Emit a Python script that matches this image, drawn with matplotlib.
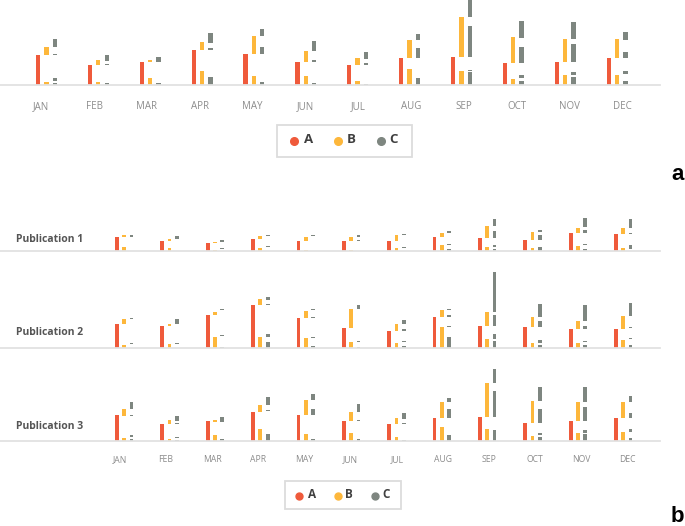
import numpy as np
import matplotlib.pyplot as plt
from matplotlib.patches import Rectangle
from matplotlib.lines import Line2D

plt.rcParams['font.family'] = ['Open Sans', 'DejaVu Sans']

W, H = 685, 526

months = ['JAN', 'FEB', 'MAR', 'APR', 'MAY', 'JUN', 'JUL', 'AUG', 'SEP', 'OCT', 'NOV', 'DEC']
series = ['A', 'B', 'C']
colors = ['#ef5a3b', '#fdb73b', '#7e8680']

# each bar is a stack of pieces from the baseline: shown, hidden, shown, hidden, ...
overall_A = [30, 19.3, 22.7, 34.3, 30.3, 23, 19.3, 27, 27.6, 21.3, 22.6, 26.6]
overall_B = [[3, 26.3, 8], [2.5, 16.8, 4.7], [7, 15.3, 1.7], [14, 20.3, 8],
             [8.3, 22, 18], [8.6, 14.4, 10.3], [4, 15.3, 7], [16, 11, 18],
             [13.6, 14, 40], [6, 15.3, 25.7], [9.3, 13.3, 23], [10, 16.6, 18.4]]
overall_C = [[1.5, 2.5, 2.5, 23, 1, 7, 8],
             [1.2, 2, 0.8, 15.3, 1.3, 2.7, 6],
             [1.5, 20.8, 5],
             [7.3, 27.3, 1.4, 6, 10],
             [2.3, 28, 7, 11, 7],
             [2, 21, 1.7, 8.6, 10],
             [0.7, 18.6, 1.7, 5, 6.3],
             [6.3, 20.7, 10, 8, 5.3],
             [12.3, 1.2, 0.8, 13.3, 31, 9, 17],
             [4, 2.3, 2.7, 12.3, 16.4, 9.3, 16.3],
             [7.3, 2.3, 2.7, 10.3, 17.4, 5.6, 17],
             [3.3, 7, 3.3, 13, 5.7, 12.7, 7.6]]

pub1_A = [16.5, 12.2, 9.4, 14.2, 12.2, 11.4, 11.8, 16.2, 15.3, 13.3, 21.2, 20]
pub1_B = [[5, 11.5, 2], [3.2, 9, 2], [1.5, 7.9, 1.5], [3.9, 10.3, 3.5],
          [1.5, 10.7, 4.7], [0.8, 10.6, 5.5], [3.2, 8.6, 7.1], [7.1, 9.1, 5],
          [5.1, 10.2, 14.2], [3.2, 10.1, 8.8], [5.9, 15.3, 6.3], [3.2, 16.8, 7.5]]
pub1_C = [[0.5, 6, 1, 9, 2.5],
          [0.5, 14, 3.5],
          [0, 2.5, 0.8, 7.7, 1.6],
          [0.5, 4.2, 0.8, 12.2, 0.8, 1.2, 0.8],
          [0, 17.3, 1.6],
          [0, 12, 0.8, 4.1, 2],
          [0, 3.6, 0.7, 8.3, 0.7, 5.6, 0.7],
          [2.4, 5, 0.8, 13, 2.4],
          [2.7, 2.4, 2.3, 7.9, 8.7, 5.1, 8.7],
          [4.4, 8.9, 5.9, 2.9, 2.7],
          [2.7, 4.7, 0.8, 13.2, 3.6, 2.7, 11.1],
          [0, 2.7, 4, 13.3, 0.8, 6.6, 9.9]]

pub2_A = [28, 25.1, 38.9, 49.9, 35, 23.2, 19.2, 35.8, 26, 24.4, 22.1, 22.1]
pub2_B = [[3.5, 24.5, 5.9], [4.7, 20.4, 2.9], [13, 25.9, 3.6], [12.6, 37.3, 7.1],
          [11.4, 23.6, 8.3], [6.3, 16.9, 22.5], [5.9, 13.3, 8.8], [24.8, 11, 8.7],
          [9.8, 16.2, 16.5], [5.1, 19.3, 12.2], [5.1, 17, 8.9], [8.6, 13.5, 14.8]]
pub2_C = [[0, 4.7, 0.8, 28.5, 1.5],
          [0, 4.7, 0.8, 19.6, 0.8, 2.1, 5.4],
          [1, 13, 0.8, 24.5, 0.8, 4.4, 0.8],
          [6.7, 5.9, 3.6, 34.1, 0.8, 5.4, 3.5],
          [2.4, 9.4, 0.8, 22.8, 0.8, 8.6, 0.8],
          [1.2, 5.6, 0.8, 16.3, 0.8, 21, 4],
          [2, 5, 0.8, 11.4, 3.2, 5.1, 5.5],
          [13, 11.4, 0.8, 10.6, 3.1, 5.7, 0.8],
          [8.3, 1.5, 6.7, 9.1, 13, 3.9, 46.8],
          [3.5, 1.6, 4, 15.3, 6.6, 5.6, 15],
          [3.5, 3.2, 0.8, 14.6, 3.9, 5, 18.9],
          [2.7, 7.9, 0.8, 11.7, 0.8, 13, 16.2]]

# publication 3 follows the overall panel
pub3_A, pub3_B, pub3_C = overall_A, overall_B, overall_C

publications = ['Publication 1', 'Publication 2', 'Publication 3']
pub_data = [(pub1_A, pub1_B, pub1_C), (pub2_A, pub2_B, pub2_C), (pub3_A, pub3_B, pub3_C)]

offsets = [0, 0.16, 0.322]
bar_w = 0.083
label_pos = 0.06 + 1.018 * np.arange(12)


def px_axes(left, top, right, bottom):
    return fig.add_axes([left / W, 1 - bottom / H, (right - left) / W, (bottom - top) / H])


def draw_bars(ax, a_vals, b_segs, c_segs):
    x = np.arange(len(months))
    stacks = [[[v] for v in a_vals], b_segs, c_segs]
    for stack, off, col in zip(stacks, offsets, colors):
        for i, segs in enumerate(stack):
            bottom = 0
            for k, h in enumerate(segs):
                if k % 2 == 0 and h > 0:
                    ax.bar(x[i] + off, h, bar_w, bottom=bottom, color=col, linewidth=0)
                bottom += h


def style(ax, show_labels, pad):
    for s in ['top', 'right', 'left']:
        ax.spines[s].set_visible(False)
    ax.spines['bottom'].set_color('#e2e2e2')
    ax.spines['bottom'].set_linewidth(1.3)
    ax.set_yticks([])
    ax.set_xticks(label_pos)
    if show_labels:
        ax.set_xticklabels(months)
    else:
        ax.set_xticklabels([])
    ax.tick_params(axis='x', length=0, pad=pad, labelcolor='#8c8c8c')
    ax.patch.set_alpha(0)


def legend_box(x0, y0, x1, y1, dots_x, texts_x, y, fs, ms):
    fig.add_artist(Rectangle((x0 / W, 1 - y1 / H), (x1 - x0) / W, (y1 - y0) / H,
                             transform=fig.transFigure, fill=False,
                             edgecolor='#dcdcdc', linewidth=1.3))
    for name, col, dx, tx in zip(series, colors, dots_x, texts_x):
        fig.add_artist(Line2D([dx / W], [1 - y / H], transform=fig.transFigure,
                              marker='o', markersize=ms, color=col, linestyle='none'))
        fig.text(tx / W, 1 - (y - 1) / H, name, fontsize=fs, fontweight='bold',
                 color='#404040', va='center', ha='left')


fig = plt.figure(figsize=(W / 100, H / 100), dpi=100)

# panel a
ax_a = px_axes(0, -1, 660, 84.5)
draw_bars(ax_a, overall_A, overall_B, overall_C)
ax_a.set_xlim(-0.736, 11.99)
ax_a.set_ylim(0, 85.5)
style(ax_a, True, 12)
for t in ax_a.get_xticklabels():
    t.set_fontsize(7)
legend_box(277, 124.5, 412, 156.5, [294, 338, 381], [304, 347, 389], 140.5, 9.5, 5.5)
fig.text(671 / W, 1 - 180.5 / H, 'a', fontsize=16, fontweight='bold', va='baseline',
         ha='left', family='Liberation Sans')

# panel b
baselines = [251, 347.7, 440.7]
name_y = [239.3, 332.7, 426.7]
scale = 0.85
ymax = 92
for j, (pub, (pa, pb, pc)) in enumerate(zip(publications, pub_data)):
    ax = px_axes(0, baselines[j] - ymax * scale, 660, baselines[j])
    draw_bars(ax, pa, pb, pc)
    ax.set_xlim(-2.579, 11.97)
    ax.set_ylim(0, ymax)
    style(ax, j == 2, 10.5)
    for t in ax.get_xticklabels():
        t.set_fontsize(6.2)
    fig.text(16 / W, 1 - name_y[j] / H, pub, fontsize=7.5, fontweight='bold',
             color='#555555', va='center', ha='left')

legend_box(284.5, 481, 401, 509, [299, 337.5, 374.5], [307.5, 344.5, 382], 495.5, 8.5, 5)
fig.text(671 / W, 1 - 522.5 / H, 'b', fontsize=16, fontweight='bold', va='baseline',
         ha='left', family='Liberation Sans')

fig.savefig('out.png', dpi=100)
